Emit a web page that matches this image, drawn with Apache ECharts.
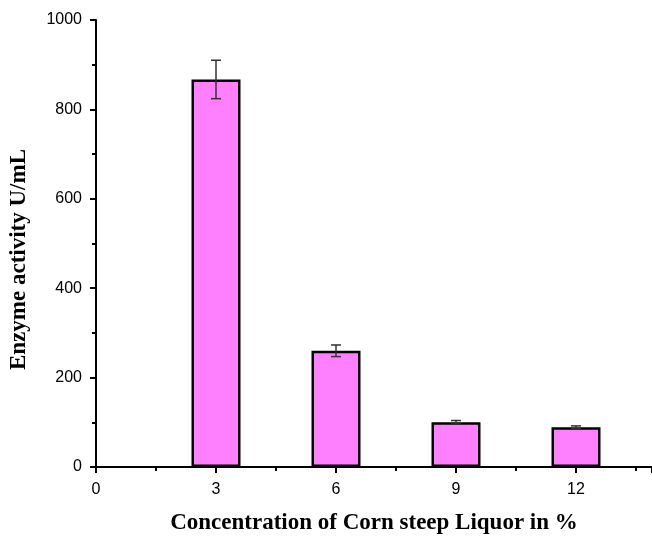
<!DOCTYPE html>
<html><head><meta charset="utf-8">
<script src="https://cdn.jsdelivr.net/npm/echarts@6/dist/echarts.min.js"></script>
<style>html,body{margin:0;padding:0;background:#fff}#c{width:652px;height:539px}</style>
</head><body><div id="c"></div>
<script>
const concentrations = [3, 6, 9, 12];
const activity = [867, 260, 100, 89];
const errors = [43, 13, 4, 3];
const xTicks = [0, 3, 6, 9, 12];
const yTicks = [0, 200, 400, 600, 800, 1000];

const chart = echarts.init(document.getElementById('c'));
const barData = concentrations.map((c, i) => [c, activity[i]]);
const errData = concentrations.map((c, i) => [c, activity[i] - errors[i], activity[i] + errors[i]]);
chart.setOption({
  animation: false,
  grid: {left: 96, right: 0, top: 20, bottom: 72, containLabel: false, outerBoundsMode: 'none'},
  xAxis: {
    type: 'value', min: 0, max: 13.9, interval: 3,
    name: 'Concentration of Corn steep Liquor in %', nameLocation: 'middle', nameGap: 45,
    nameTextStyle: {fontFamily: 'Liberation Serif', fontWeight: 'bold', fontSize: 23, color: '#000'},
    axisLine: {show: true, lineStyle: {color: '#000', width: 2}},
    axisTick: {show: true, inside: false, length: 6, lineStyle: {color: '#000', width: 2}},
    minorTick: {show: true, splitNumber: 2, length: 4, lineStyle: {color: '#000', width: 2}},
    axisLabel: {fontFamily: 'Liberation Sans', fontSize: 16, color: '#000', margin: 15, showMaxLabel: false,
      formatter: v => xTicks.includes(v) ? String(v) : ''},
    splitLine: {show: false}
  },
  yAxis: {
    type: 'value', min: 0, max: 1000, interval: 200,
    name: 'Enzyme activity U/mL', nameLocation: 'middle', nameGap: 65,
    nameTextStyle: {fontFamily: 'Liberation Serif', fontWeight: 'bold', fontSize: 23, color: '#000', padding: [0, 32, 0, 0]},
    axisLine: {show: true, lineStyle: {color: '#000', width: 2}},
    axisTick: {show: true, inside: false, length: 6, lineStyle: {color: '#000', width: 2}},
    minorTick: {show: true, splitNumber: 2, length: 4, lineStyle: {color: '#000', width: 2}},
    axisLabel: {fontFamily: 'Liberation Sans', fontSize: 16, color: '#000', margin: 14,
      formatter: v => yTicks.includes(v) ? String(v) : ''},
    splitLine: {show: false}
  },
  series: [
    {type: 'bar', data: barData, barWidth: 49,
     itemStyle: {color: '#FF80FF', borderColor: '#000', borderWidth: 2.5}},
    {type: 'custom', data: errData, z: 10,
     renderItem: (params, api) => {
       const x = api.value(0);
       const lo = api.coord([x, api.value(1)]);
       const hi = api.coord([x, api.value(2)]);
       const hw = 5;
       const st = {stroke: '#333', lineWidth: 1.5};
       return {type: 'group', children: [
         {type: 'line', shape: {x1: lo[0], y1: lo[1], x2: hi[0], y2: hi[1]}, style: st},
         {type: 'line', shape: {x1: lo[0]-hw, y1: lo[1], x2: lo[0]+hw, y2: lo[1]}, style: st},
         {type: 'line', shape: {x1: hi[0]-hw, y1: hi[1], x2: hi[0]+hw, y2: hi[1]}, style: st}
       ]};
     }}
  ]
});
</script></body></html>
